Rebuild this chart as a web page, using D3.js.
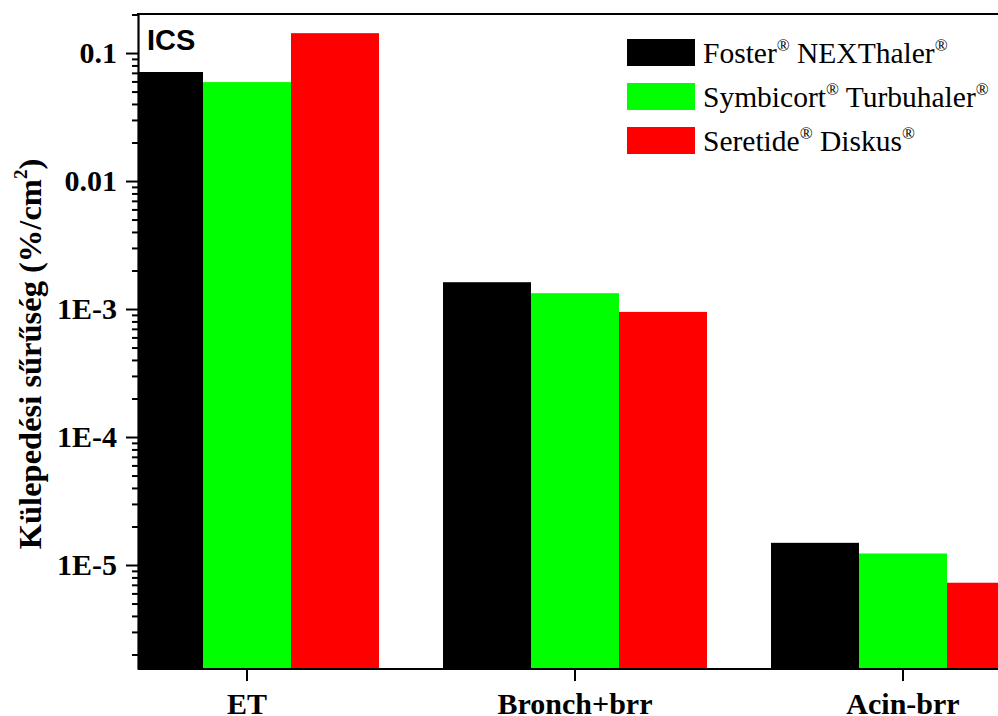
<!DOCTYPE html>
<html>
<head>
<meta charset="utf-8">
<script src="https://cdn.jsdelivr.net/npm/d3@7"></script>
<style>
  body { margin: 0; background: #fff; }
  svg { display: block; }
</style>
</head>
<body>
<svg id="chart" width="998" height="716"></svg>
<script>
// data
var categories = ['ET', 'Bronch+brr', 'Acin-brr'];
var seriesNames = ['Foster', 'Symbicort', 'Seretide'];
var seriesColors = ['#000000', '#00ff00', '#ff0000'];
var fosterValues = [0.0711, 1.62e-3, 1.49e-5];
var symbicortValues = [0.0593, 1.33e-3, 1.23e-5];
var seretideValues = [0.143, 9.5e-4, 7.27e-6];
var legendMain = [['Foster', ' NEXThaler'], ['Symbicort', ' Turbuhaler'], ['Seretide', ' Diskus']];
var yTickValues = [0.1, 0.01, 1e-3, 1e-4, 1e-5];
var yTickLabels = ['0.1', '0.01', '1E-3', '1E-4', '1E-5'];

var allValues = [fosterValues, symbicortValues, seretideValues];

var svg = d3.select('#chart');
var plotLeft = 138, plotTop = 14, plotBottom = 669, plotRight = 1080;
var serif = '"Liberation Serif", "Times New Roman", serif';

var y = d3.scaleLog()
  .domain([Math.pow(10, -5.8125), Math.pow(10, -0.695)])
  .range([plotBottom, plotTop]);

var x = d3.scaleBand()
  .domain(categories)
  .range([83, 1067])
  .padding(0);

var barW = 88;
var xSub = d3.scaleBand()
  .domain(seriesNames)
  .range([-barW * 1.5, barW * 1.5]);

svg.append('clipPath').attr('id', 'plotclip')
  .append('rect')
  .attr('x', plotLeft).attr('y', plotTop)
  .attr('width', plotRight - plotLeft).attr('height', plotBottom - plotTop);

var plot = svg.append('g').attr('clip-path', 'url(#plotclip)');

seriesNames.forEach(function(name, si) {
  plot.selectAll('.bar-' + si)
    .data(allValues[si])
    .enter().append('rect')
    .attr('class', 'bar-' + si)
    .attr('x', function(d, i) { return x(categories[i]) + x.bandwidth() / 2 + xSub(name); })
    .attr('width', xSub.bandwidth())
    .attr('y', function(d) { return y(d); })
    .attr('height', function(d) { return plotBottom - y(d); })
    .attr('fill', seriesColors[si]);
});

// minor ticks
var minorTicks = [];
for (var e = -6; e <= 0; e++) {
  for (var m = 2; m <= 9; m++) {
    var v = m * Math.pow(10, e);
    if (v >= y.domain()[0] && v <= y.domain()[1]) minorTicks.push(v);
  }
}

var yMinor = svg.append('g')
  .attr('transform', 'translate(' + plotLeft + ',0)')
  .call(d3.axisLeft(y).tickValues(minorTicks).tickSize(6).tickFormat(''));
yMinor.select('.domain').remove();
yMinor.selectAll('line').attr('stroke-width', 2);

var yAxis = svg.append('g')
  .attr('transform', 'translate(' + plotLeft + ',0)')
  .call(d3.axisLeft(y)
    .tickValues(yTickValues)
    .tickSize(12)
    .tickSizeOuter(0)
    .tickPadding(9)
    .tickFormat(function(d, i) { return yTickLabels[i]; }));
yAxis.select('.domain').attr('stroke-width', 2.2);
yAxis.selectAll('line').attr('stroke-width', 2);
yAxis.selectAll('text')
  .attr('font-family', serif)
  .attr('font-weight', 'bold')
  .attr('font-size', 30)
  .attr('fill', '#000');

var xAxis = svg.append('g')
  .attr('transform', 'translate(0,' + plotBottom + ')')
  .call(d3.axisBottom(x).tickSize(12).tickSizeOuter(0).tickPadding(12));
xAxis.select('.domain').attr('d', 'M' + plotLeft + ',0H' + plotRight).attr('stroke-width', 2.2);
xAxis.selectAll('line').attr('stroke-width', 2);
xAxis.selectAll('text')
  .attr('font-family', serif)
  .attr('font-weight', 'bold')
  .attr('font-size', 30)
  .attr('fill', '#000');

// top frame line
svg.append('line')
  .attr('x1', plotLeft - 1).attr('x2', plotRight)
  .attr('y1', plotTop).attr('y2', plotTop)
  .attr('stroke', '#000').attr('stroke-width', 2.2);

// panel label
svg.append('text')
  .attr('x', 147).attr('y', 50)
  .attr('font-family', '"Liberation Sans", Arial, sans-serif')
  .attr('font-weight', 'bold')
  .attr('font-size', 29)
  .text('ICS');

// y title
var yTitle = svg.append('text')
  .attr('transform', 'translate(41,354) rotate(-90)')
  .attr('text-anchor', 'middle')
  .attr('font-family', serif)
  .attr('font-weight', 'bold')
  .attr('font-size', 32.5);
yTitle.append('tspan').text('Külepedési sűrűség (%/cm');
yTitle.append('tspan').attr('font-size', 19).attr('dy', -14).text('2');
yTitle.append('tspan').attr('dy', 14).text(')');

// legend
var legend = svg.append('g').attr('transform', 'translate(627,39)');
legendMain.forEach(function(parts, i) {
  var row = legend.append('g').attr('transform', 'translate(0,' + (i * 44) + ')');
  row.append('rect')
    .attr('width', 68).attr('height', 27)
    .attr('fill', seriesColors[i]);
  var t = row.append('text')
    .attr('x', 76).attr('y', 24)
    .attr('font-family', serif)
    .attr('font-size', 29.5)
    .attr('fill', '#000');
  t.append('tspan').text(parts[0]);
  t.append('tspan').attr('font-size', 17).attr('dy', -12).text('®');
  t.append('tspan').attr('dy', 12).text(parts[1]);
  t.append('tspan').attr('font-size', 17).attr('dy', -12).text('®');
});
</script>
</body>
</html>
